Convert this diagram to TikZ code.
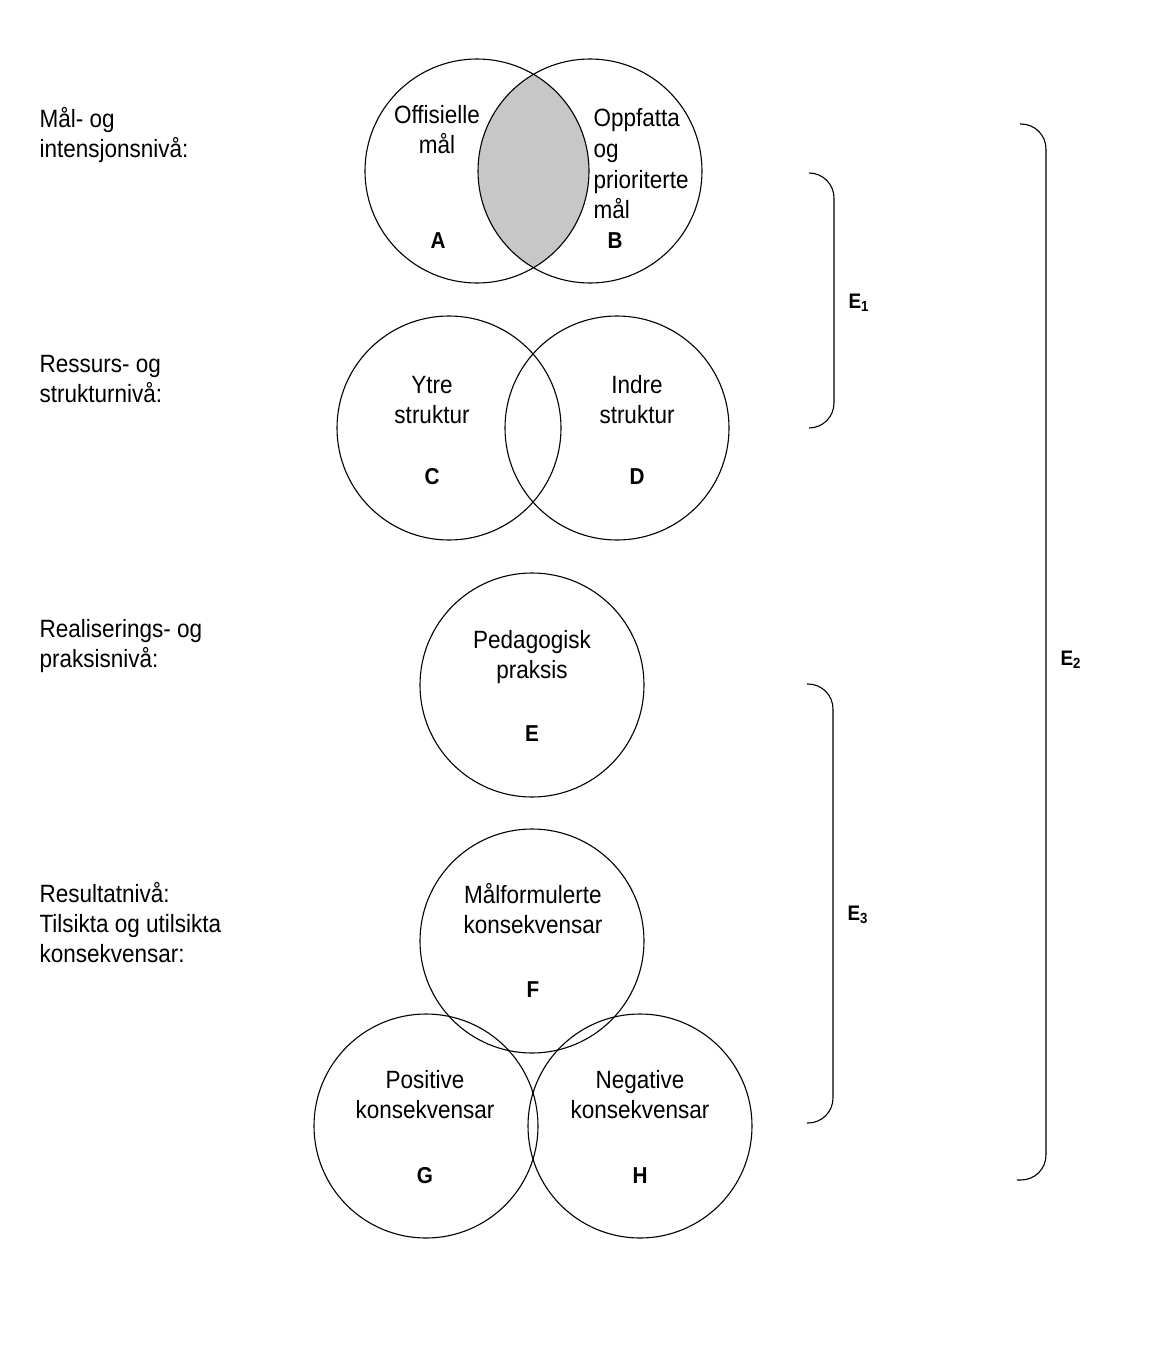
\documentclass[tikz,border=0pt]{standalone}
\usepackage{fontspec}
\setmainfont[FakeStretch=0.9]{Liberation Sans}
\usetikzlibrary{backgrounds}

\begin{document}
\begin{tikzpicture}[x=1pt, y=-1pt, line width=1.1pt,
	every node/.style={inner sep=0pt, font=\fontsize{25}{30}\selectfont},
	sirkel/.style={circle, draw, minimum size=224pt},
	tekst/.style={anchor=base, align=center},
	bokstav/.style={anchor=base, font=\fontsize{23}{27}\selectfont\bfseries},
	indeks/.style={anchor=base west, font=\fontsize{21}{25}\selectfont\bfseries},
	niva/.style={anchor=base west, align=left},
	klamme/.style={rounded corners=25pt}
	]

\useasboundingbox (0,0) rectangle (1158,1354);

\node[sirkel] (A) at (477,171) {};
\node[sirkel] (B) at (590,171) {};
\node[sirkel] (C) at (449,428) {};
\node[sirkel] (D) at (617,428) {};
\node[sirkel] (E) at (532,685) {};
\node[sirkel] (F) at (532,941) {};
\node[sirkel] (G) at (426,1126) {};
\node[sirkel] (H) at (640,1126) {};

\begin{scope}[on background layer]
	\clip (A.center) circle (112pt);
	\fill[black!22] (B.center) circle (112pt);
\end{scope}

\node[tekst] (offisielle) at (437,153) {Offisielle\\mål};
\node[tekst, anchor=base west, align=left] (oppfatta) at (593,218) {Oppfatta\\[1pt]og\\[1pt]prioriterte\\mål};
\node[tekst] (ytre) at (432,423) {Ytre\\struktur};
\node[tekst] (indre) at (637,423) {Indre\\struktur};
\node[tekst] (pedagogisk) at (532,678) {Pedagogisk\\praksis};
\node[tekst] (malformulerte) at (533,933) {Målformulerte\\konsekvensar};
\node[tekst] (positive) at (425,1118) {Positive\\konsekvensar};
\node[tekst] (negative) at (640,1118) {Negative\\konsekvensar};

\node[bokstav] (bA) at (438,248) {A};
\node[bokstav] (bB) at (615,248) {B};
\node[bokstav] (bC) at (432,484) {C};
\node[bokstav] (bD) at (637,484) {D};
\node[bokstav] (bE) at (532,741) {E};
\node[bokstav] (bF) at (533,997) {F};
\node[bokstav] (bG) at (425,1183) {G};
\node[bokstav] (bH) at (640,1183) {H};

\node[niva] (mal) at (39,157) {Mål- og\\intensjonsnivå:};
\node[niva] (ressurs) at (39,402) {Ressurs- og\\strukturnivå:};
\node[niva] (realisering) at (39,667) {Realiserings- og\\praksisnivå:};
\node[niva] (resultat) at (39,962) {Resultatnivå:\\Tilsikta og utilsikta\\konsekvensar:};

\draw[klamme] (809,173) -- (834,173) -- (834,428) -- (809,428);
\draw[klamme] (807,684) -- (833,684) -- (833,1123) -- (807,1123);
\draw[klamme] (1020,124) -- (1046,124) -- (1046,1180) -- (1017,1180);

\node[indeks] (e1) at (848,308) {E\textsubscript{1}};
\node[indeks] (e2) at (1060,665) {E\textsubscript{2}};
\node[indeks] (e3) at (847,920) {E\textsubscript{3}};

\end{tikzpicture}
\end{document}
